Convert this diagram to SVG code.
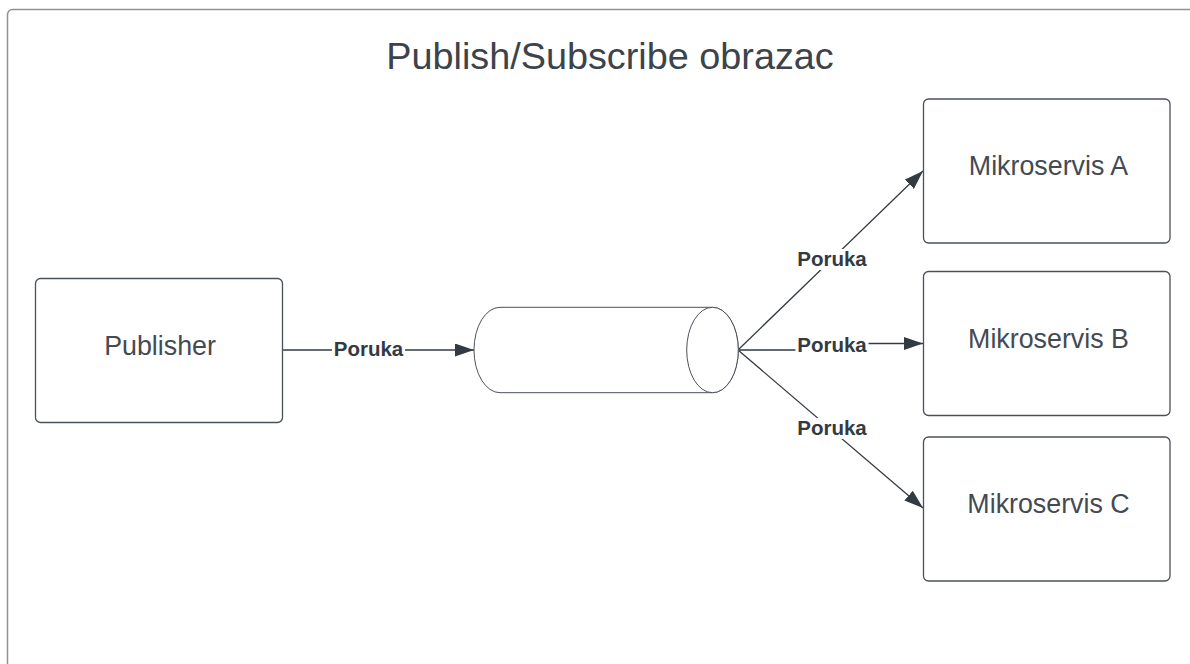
<svg xmlns="http://www.w3.org/2000/svg" width="1190" height="664" viewBox="0 0 1190 664">
  <style>
    .frame { fill: #ffffff; stroke: #8e9399; stroke-width: 1.5; }
    .box { fill: #ffffff; stroke: #4b5159; stroke-width: 1.3; }
    .cyl { fill: #ffffff; stroke: #4b5159; stroke-width: 1; }
    .node-text { font-family: "Liberation Sans", Arial, sans-serif; font-size: 26.8px; fill: #444a52; text-anchor: middle; }
    .title { font-family: "Liberation Sans", Arial, sans-serif; font-size: 37.8px; fill: #3d434b; text-anchor: middle; }
    .conn { fill: none; stroke: #333a42; stroke-width: 1.3; }
    .lbl-bg { fill: #ffffff; }
    .lbl { font-family: "Liberation Sans", Arial, sans-serif; font-size: 20.5px; font-weight: bold; fill: #333a42; text-anchor: middle; }
  </style>
  <defs>
    <marker id="arrow" markerUnits="userSpaceOnUse" markerWidth="20" markerHeight="14" refX="19" refY="6.5" orient="auto">
      <path d="M0,0 L19,6.5 L0,13 Z" fill="#333a42"/>
    </marker>
  </defs>
  <rect width="1190" height="664" fill="#ffffff"/>
  <g id="frame">
    <rect class="frame" x="7.5" y="9.5" width="1200" height="700" rx="5"/>
  </g>
  <g id="title">
    <text class="title" x="610" y="68.5">Publish/Subscribe obrazac</text>
  </g>
  <g id="connectors">
    <path class="conn" d="M283,350 L474,350" marker-end="url(#arrow)"/>
    <path class="conn" d="M738,350 L923,171" marker-end="url(#arrow)"/>
    <path class="conn" d="M738,350 L832,350 L832,343.5 L923,343.5" marker-end="url(#arrow)"/>
    <path class="conn" d="M738,350 L923,508" marker-end="url(#arrow)"/>
    <rect class="lbl-bg" x="332" y="340" width="73" height="19"/>
    <text class="lbl" x="368.5" y="355.5">Poruka</text>
    <rect class="lbl-bg" x="795" y="249" width="74" height="21"/>
    <text class="lbl" x="832" y="266">Poruka</text>
    <rect class="lbl-bg" x="795.5" y="336" width="73" height="19"/>
    <text class="lbl" x="832" y="351.5">Poruka</text>
    <rect class="lbl-bg" x="795" y="418" width="74" height="21"/>
    <text class="lbl" x="832" y="435">Poruka</text>
  </g>
  <g id="publisher">
    <rect class="box" x="35.5" y="278.5" width="247" height="144" rx="5"/>
    <text class="node-text" x="160" y="354.5">Publisher</text>
  </g>
  <g id="broker">
    <path class="cyl" d="M500,307.3 L712.5,307.3 A25.8,42.7 0 0 1 712.5,392.7 L500,392.7 A26,42.7 0 0 1 500,307.3 Z"/>
    <ellipse class="cyl" cx="712.5" cy="350" rx="25.8" ry="42.7"/>
  </g>
  <g id="mikroservis-a">
    <rect class="box" x="923.5" y="99" width="246.5" height="144" rx="5"/>
    <text class="node-text" x="1048.5" y="175">Mikroservis A</text>
  </g>
  <g id="mikroservis-b">
    <rect class="box" x="923.5" y="271.5" width="246.5" height="144" rx="5"/>
    <text class="node-text" x="1048.5" y="348.3">Mikroservis B</text>
  </g>
  <g id="mikroservis-c">
    <rect class="box" x="923.5" y="437" width="246.5" height="144" rx="5"/>
    <text class="node-text" x="1048.5" y="513.3">Mikroservis C</text>
  </g>
</svg>
